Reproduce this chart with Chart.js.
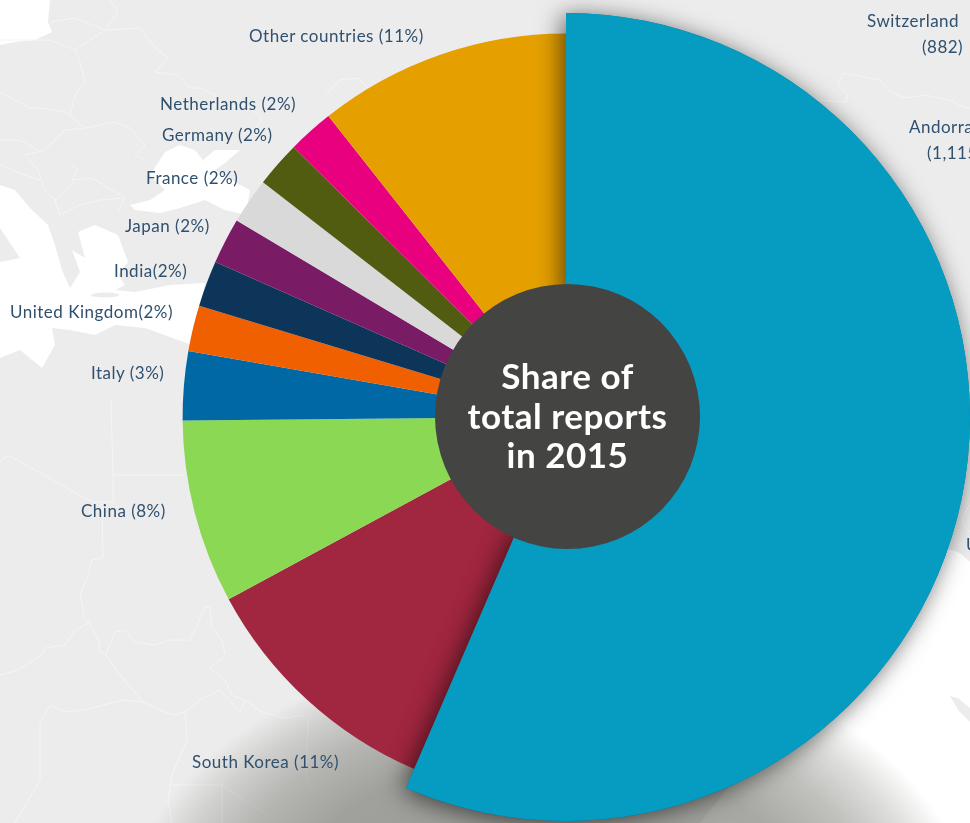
<!DOCTYPE html>
<html lang="en">
<head>
  <meta charset="UTF-8">
  <title>Share of total reports in 2015</title>
  <style>
    html, body {
      margin: 0;
      width: 970px;
      height: 823px;
      overflow: hidden;
      background: #ececec;
      font-family: Lato, sans-serif;
    }
    #map, #groundShadow, #chart, #labels, #centerText {
      position: absolute;
      left: 0;
      top: 0;
    }
    #groundShadow {
      width: 970px;
      height: 823px;
      background: radial-gradient(ellipse 425px 280px at 548px 925px,
        rgba(105,105,98,.62) 0%, rgba(105,105,98,.58) 62%, rgba(105,105,98,.42) 78%, rgba(105,105,98,.22) 90%, rgba(105,105,98,0) 100%);
    }
    .lbl {
      position: absolute;
      white-space: nowrap;
      color: #30506f;
      font-size: 17px;
      letter-spacing: .5px;
      line-height: 20px;
      transform: translateY(-50%);
    }
    #centerText {
      left: 434px;
      top: 356px;
      width: 267px;
      text-align: center;
      color: #fff;
      font-weight: 700;
      font-size: 35px;
      letter-spacing: .5px;
      line-height: 39.5px;
    }
  </style>
  <script src="https://cdn.jsdelivr.net/npm/chart.js"></script>
</head>
<body>
  <!-- Land is the page colour; seas and borders sit on top of it -->
  <svg id="map" width="970" height="823">
    <g fill="#fff">
      <path d="M0,0 L50,0 L48,22 L52,32 L35,40 L15,42 L0,45 Z"/>
      <path d="M0,185 L15,190 L30,208 L48,225 L55,245 L62,270 L70,288 L80,272 L72,250 L85,258 L78,232 L95,225 L118,235 L128,262 L118,275 L125,285 L115,290 L135,292 L170,285 L205,283 L202,300 L192,345 L145,328 L115,325 L95,335 L70,330 L52,328 L55,345 L42,368 L20,350 L0,358 L0,262 L20,258 L0,228 Z"/>
      <path d="M130,205 L150,200 L165,190 L150,175 L165,152 L180,145 L195,150 L203,160 L215,150 L240,150 L225,163 L215,170 L240,185 L250,190 L246,215 L225,210 L205,200 L180,208 L160,213 L135,210 Z"/>
      <path d="M900,570 L945,548 L960,553 L970,562 L970,823 L700,823 Z"/>
    </g>
    <g fill="#ececec">
      <ellipse cx="105" cy="295" rx="14" ry="2.5"/>
      <path d="M950,696 L958,698 L970,708 L970,722 L958,710 Z"/>
    </g>
    <g fill="none" stroke="#f5f5f5" stroke-width="1">
      <path d="M50,22 L75,18 L105,30 L118,12 L110,0"/>
      <path d="M105,30 L140,28 L150,42 L160,52 L168,58 L155,72 L178,75 L190,88 L200,88 L215,95 L225,108 L245,105 L262,118 L255,130"/>
      <path d="M75,50 L80,62 L85,82 L75,95 L70,115 L85,128 L115,122 L130,128 L145,145 L135,155 L145,160"/>
      <path d="M0,40 L50,40 L75,50 L105,30"/>
      <path d="M0,92 L15,100 L30,108 L40,108 L65,112 L70,115"/>
      <path d="M85,128 L65,130 L45,150 L25,155 L38,170 L45,190 L55,200 L60,215"/>
      <path d="M38,150 L20,140 L0,140"/>
      <path d="M0,165 L25,175 L40,180"/>
      <path d="M60,215 L80,205 L100,200 L125,198 L118,212"/>
      <path d="M60,215 L55,200 L72,185 L73,178 L78,170 L72,165"/>
      <path d="M72,180 L92,178 L112,190 L125,198"/>
      <path d="M325,95 L340,80 L358,78 L380,100"/>
      <path d="M111,400 L113,475 L185,475"/>
      <path d="M8,455 L92,502 L113,502 L113,475"/>
      <path d="M0,462 L8,455"/>
      <path d="M102,502 L103,558 L92,560 L88,575 L80,595 L85,620 L90,622 L75,630 L65,645 L45,648 L42,655 L18,670 L0,675"/>
      <path d="M90,622 L100,645 L98,650 L106,655 L120,675 L133,690 L143,702 L165,712 L175,715 L185,712 L200,700 L220,690 L240,712 L245,700 L262,712 L285,718 L305,715"/>
      <path d="M106,655 L115,632 L125,630 L135,642 L155,645 L170,640 L190,640 L205,607 L210,607 L212,628 L222,640 L225,655"/>
      <path d="M222,658 L210,668 L225,680 L232,695 L238,698 L245,700"/>
      <path d="M143,702 L122,700 L85,710 L65,712 L50,705 L40,722 L40,780 L15,823"/>
      <path d="M185,712 L187,740 L172,775 L168,800 L172,823"/>
      <path d="M222,782 L222,830 M172,785 L222,785 L268,815"/>
      <path d="M308,718 L306,780 L312,790"/>
      <path d="M843,73 L838,85 L848,95 L846,102 L818,100"/>
      <path d="M843,73 L880,80 L890,92 L905,98 L925,95 L950,100 L965,108 L970,108"/>
      <path d="M970,505 L965,512 L962,522 L970,532"/>
    </g>
  </svg>
  <div id="groundShadow"></div>
  <canvas id="chart" width="970" height="823"></canvas>
  <div id="labels"></div>
  <div id="centerText">Share of<br>total reports<br>in 2015</div>

  <script>
    // Clockwise from the edge of the large slice; the large slice goes last so it paints on top.
    const countries = ['South Korea', 'China', 'Italy', 'United Kingdom', 'India', 'Japan', 'France', 'Germany', 'Netherlands', 'Other countries', 'United States'];
    const shares = [11, 8, 3, 2, 2, 2, 2, 2, 2, 11, 58.4];
    const sliceColors = ['#a1263f', '#8bd854', '#0068a5', '#f06000', '#0c3559', '#7a1b66', '#d9d9d9', '#525c10', '#e9007f', '#e5a000', '#069cc1'];

    const labelTexts = ['Other countries (11%)', 'Netherlands (2%)', 'Germany (2%)', 'France (2%)', 'Japan (2%)', 'India(2%)', 'United Kingdom(2%)', 'Italy (3%)', 'China (8%)', 'South Korea (11%)', 'Switzerland', '(882)', 'Andorra', '(1,115)', 'United States'];
    const labelLeft = [249, 160, 162, 146, 125, 114, 10, 91, 81, 192, 867, 922, 909, 927, 966];
    const labelMidY = [36, 104, 135, 178, 226, 271, 312, 373, 511, 762, 21, 47, 127, 153, 545];

    const labelsBox = document.getElementById('labels');
    labelTexts.forEach((text, i) => {
      const div = document.createElement('div');
      div.className = 'lbl';
      div.textContent = text;
      div.style.left = labelLeft[i] + 'px';
      div.style.top = labelMidY[i] + 'px';
      labelsBox.appendChild(div);
    });

    const total = shares.reduce((a, b) => a + b, 0);
    const bigIndex = shares.length - 1;

    // Only the large slice keeps the full radius, the rest are pulled in.
    const sliceRadii = {
      id: 'sliceRadii',
      afterDatasetUpdate(chart) {
        const arcs = chart.getDatasetMeta(0).data;
        arcs.forEach((arc, i) => {
          if (i !== bigIndex) arc.outerRadius = arc.outerRadius * 0.949;
        });
      }
    };

    // Repaint the large slice with a soft shadow, then the dark disc over the middle.
    const sliceShadow = {
      id: 'sliceShadow',
      afterDatasetsDraw(chart) {
        const ctx = chart.ctx;
        const big = chart.getDatasetMeta(0).data[bigIndex];
        ctx.save();
        ctx.shadowColor = 'rgba(0,0,0,0.6)';
        ctx.shadowBlur = 24;
        ctx.shadowOffsetX = -4;
        ctx.shadowOffsetY = 3;
        big.draw(ctx);
        ctx.restore();

        ctx.save();
        ctx.fillStyle = '#444443';
        ctx.beginPath();
        ctx.arc(big.x + 1.5, big.y - 0.5, 132.5, 0, Math.PI * 2);
        ctx.fill();
        ctx.restore();
      }
    };

    new Chart(document.getElementById('chart').getContext('2d'), {
      type: 'doughnut',
      data: {
        labels: countries,
        datasets: [{
          data: shares,
          backgroundColor: sliceColors,
          borderWidth: 0
        }]
      },
      options: {
        responsive: false,
        animation: false,
        cutout: 120,
        rotation: shares[bigIndex] / total * 360,
        layout: { padding: { left: 162, right: 0, top: 13, bottom: 2 } },
        plugins: {
          legend: { display: false },
          tooltip: { enabled: false }
        }
      },
      plugins: [sliceRadii, sliceShadow]
    });
  </script>
</body>
</html>
